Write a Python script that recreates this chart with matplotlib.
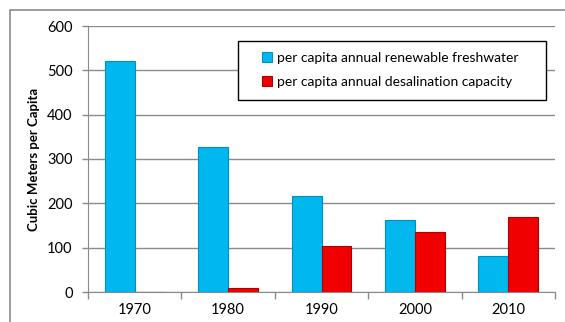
import matplotlib
matplotlib.use("Agg")
import matplotlib.pyplot as plt
from matplotlib.patches import Rectangle
import numpy as np

years = ["1970", "1980", "1990", "2000", "2010"]
freshwater = [522, 328, 217, 163, 82]
desalination = [0, 10, 104, 135, 169]
series_labels = ["per capita annual renewable freshwater",
                 "per capita annual desalination capacity"]
yticks = [0, 100, 200, 300, 400, 500, 600]

plt.rcParams['font.family'] = ['Lato', 'DejaVu Sans']

W, H = 565, 322
fig = plt.figure(figsize=(W/100, H/100), dpi=100)
fig.patch.set_facecolor("white")
# outer chart border
fig.add_artist(Rectangle((10/W, -0.1), 1.2, (H-10)/H + 0.1, transform=fig.transFigure,
                         fill=False, edgecolor="#8c8c8c", linewidth=1.2))

left, right, top, bottom = 88, 555, 26, 292
ax = fig.add_axes([left/W, 1-bottom/H, (right-left)/W, (bottom-top)/H])

x = np.arange(len(years))
bw = 0.32
ax.bar(x - bw/2, freshwater, width=bw, color="#00B8EE", edgecolor="#0090C0",
       linewidth=0.8, label=series_labels[0], zorder=3)
ax.bar(x + bw/2, desalination, width=bw, color="#F00000", edgecolor="#B00000",
       linewidth=0.8, label=series_labels[1], zorder=3)

ax.set_xlim(-0.5, len(years) - 0.5)
ax.set_ylim(0, 600)
ax.set_yticks(yticks)
ax.set_yticklabels([str(t) for t in yticks], fontsize=10.5)
ax.yaxis.grid(True, color="#8a8a8a", linewidth=1.0, zorder=0)
ax.set_axisbelow(True)

ax.set_xticks(x)
ax.set_xticklabels(years, fontsize=10.5)
ax.tick_params(axis="x", length=0, pad=8)
ax.set_xticks(np.arange(-0.5, len(years)), minor=True)
ax.tick_params(axis="x", which="minor", length=5, color="#8a8a8a", width=1)
ax.tick_params(axis="y", length=4, color="#8a8a8a", width=1, pad=7)

for s in ["top", "right"]:
    ax.spines[s].set_visible(False)
ax.spines["left"].set_color("#8a8a8a")
ax.spines["bottom"].set_color("#8a8a8a")

ax.set_ylabel("Cubic Meters per Capita", fontsize=9.5, fontweight="bold", labelpad=5)

def ax_x(px):
    return (px - left) / (right - left)

def ax_y(py):
    return 1 - (py - top) / (bottom - top)

# legend frame
ax.add_patch(Rectangle((ax_x(238), ax_y(100)), ax_x(546) - ax_x(238), ax_y(41) - ax_y(100),
                       transform=ax.transAxes, facecolor="white", edgecolor="black",
                       linewidth=1.0, zorder=5))
leg = ax.legend(loc="upper left", bbox_to_anchor=(ax_x(262), ax_y(52)),
                fontsize=10, frameon=False, borderpad=0, borderaxespad=0,
                handlelength=0.7, handleheight=0.7, handletextpad=0.35,
                labelspacing=0.85)
leg.set_zorder(6)

fig.savefig("out.png", dpi=100)
